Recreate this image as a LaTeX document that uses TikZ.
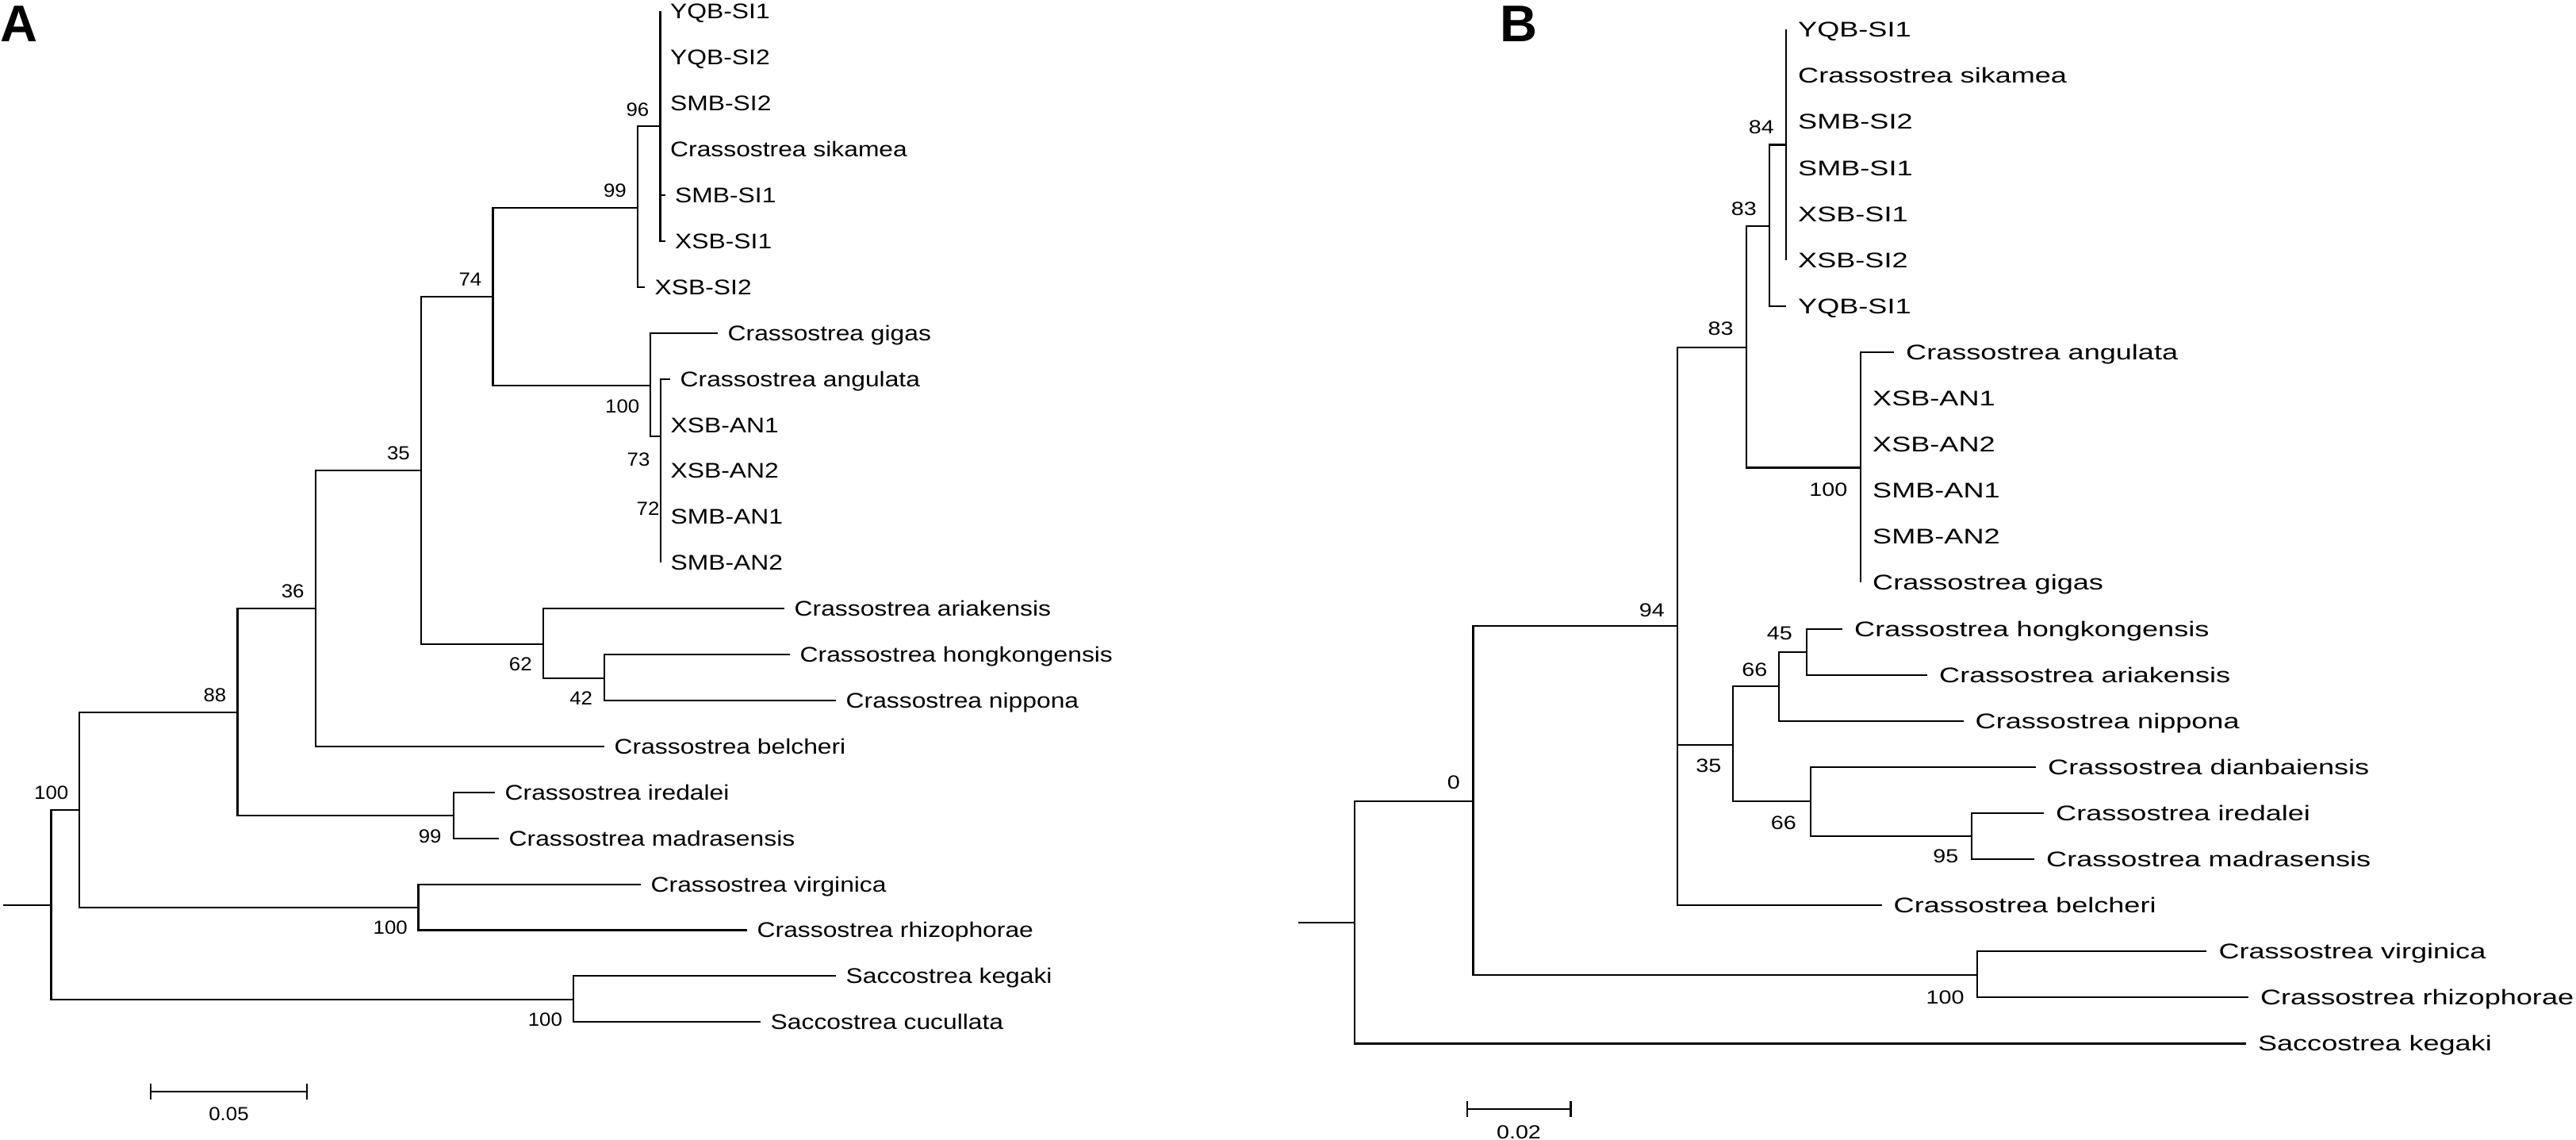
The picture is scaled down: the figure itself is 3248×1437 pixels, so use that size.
\documentclass[tikz,border=0pt]{standalone}
\usepackage{fontspec}
\setmainfont{Liberation Sans}
\newfontfamily\taxonfontA[FakeStretch=1.19]{Liberation Sans}
\newfontfamily\taxonfontB[FakeStretch=1.35]{Liberation Sans}
\newfontfamily\bootfontA[FakeStretch=1.08]{Liberation Sans}
\newfontfamily\bootfontB[FakeStretch=1.2]{Liberation Sans}
\usepackage{tikz}
\usetikzlibrary{positioning,arrows.meta}
\tikzstyle{leafA} = [anchor=west, inner xsep=1.2mm, inner ysep=0pt,
    text height=5.4pt, text depth=0pt, font=\taxonfontA\fontsize{7.6}{9}\selectfont]
\tikzstyle{leafB} = [leafA, inner xsep=1.45mm, font=\taxonfontB\fontsize{7.6}{9}\selectfont]
\tikzstyle{bootA} = [inner sep=0pt, text height=4.9pt, text depth=0pt,
    font=\bootfontA\fontsize{6.8}{8}\selectfont]
\tikzstyle{bootB} = [bootA, font=\bootfontB\fontsize{6.8}{8}\selectfont]
\tikzstyle{panel} = [anchor=base west, inner sep=0pt, font=\fontsize{18.5}{20}\selectfont\bfseries]
\tikzstyle{branch} = [draw, line width=0.6pt]
\tikzstyle{scalebar} = [draw, line width=0.6pt, {Bar[width=1.95mm]}-{Bar[width=1.95mm]}]

\begin{document}
\begin{tikzpicture}[x=0.01cm,y=-0.01cm]
    \useasboundingbox (0,0) rectangle (3248,1437);
    % Panel A: inner nodes
    \coordinate (stubA) at (3.5,1141);
    \coordinate (rA) at (64.5,1141);
    \coordinate (nA1) at (100,1021);
    \coordinate (nA2) at (299.5,898);
    \coordinate (nA3) at (397.8,767);
    \coordinate (nA4) at (531,593);
    \coordinate (nA5) at (621.5,374);
    \coordinate (nA6) at (804,262);
    \coordinate (nA7) at (832.5,159);
    \coordinate (nA8) at (820,486);
    \coordinate (nA9) at (833,550);
    \coordinate (nA10) at (833,637);
    \coordinate (nA11) at (833,680);
    \coordinate (nA12) at (685.4,812);
    \coordinate (nA13) at (761.8,855);
    \coordinate (nA14) at (571.7,1028);
    \coordinate (nA15) at (527.5,1144);
    \coordinate (nA16) at (722.6,1260);
    % Panel A: taxa
    \node[leafA] (ysi1A) at (832.5,14.5) {YQB-SI1};
    \node[leafA] (ysi2A) at (832.5,72.4) {YQB-SI2};
    \node[leafA] (ssi2A) at (832.5,130.3) {SMB-SI2};
    \node[leafA] (sikaA) at (832.5,188.2) {Crassostrea sikamea};
    \node[leafA] (ssi1A) at (838.5,246.1) {SMB-SI1};
    \node[leafA] (xsi1A) at (838.5,304.0) {XSB-SI1};
    \node[leafA] (xsi2A) at (813,361.9) {XSB-SI2};
    \node[leafA] (gigaA) at (905,419.8) {Crassostrea gigas};
    \node[leafA] (anguA) at (845,477.7) {Crassostrea angulata};
    \node[leafA] (xan1A) at (833,535.6) {XSB-AN1};
    \node[leafA] (xan2A) at (833,593.5) {XSB-AN2};
    \node[leafA] (san1A) at (833,651.4) {SMB-AN1};
    \node[leafA] (san2A) at (833,709.3) {SMB-AN2};
    \node[leafA] (ariaA) at (989,767.2) {Crassostrea ariakensis};
    \node[leafA] (hongA) at (996,825.1) {Crassostrea hongkongensis};
    \node[leafA] (nippA) at (1054,883.0) {Crassostrea nippona};
    \node[leafA] (belcA) at (762,940.9) {Crassostrea belcheri};
    \node[leafA] (iredA) at (624,998.8) {Crassostrea iredalei};
    \node[leafA] (madrA) at (629,1056.7) {Crassostrea madrasensis};
    \node[leafA] (virgA) at (808,1114.6) {Crassostrea virginica};
    \node[leafA] (rhizA) at (942,1172.5) {Crassostrea rhizophorae};
    \node[leafA] (kegaA) at (1054,1230.4) {Saccostrea kegaki};
    \node[leafA] (cucuA) at (959,1288.3) {Saccostrea cucullata};
    % Panel A: branches
    \path [branch] (stubA) -- (rA);
    \path [branch] (rA) |- (nA1);
    \path [branch] (rA) |- (nA16);
    \path [branch] (nA1) |- (nA2);
    \path [branch] (nA1) |- (nA15);
    \path [branch] (nA2) |- (nA3);
    \path [branch] (nA2) |- (nA14);
    \path [branch] (nA3) |- (nA4);
    \path [branch] (nA3) |- (belcA.west);
    \path [branch] (nA4) |- (nA5);
    \path [branch] (nA4) |- (nA12);
    \path [branch] (nA5) |- (nA6);
    \path [branch] (nA5) |- (nA8);
    \path [branch] (nA6) |- (nA7);
    \path [branch] (nA6) |- (xsi2A.west);
    \path [branch] (nA7) |- (ysi1A.west);
    \path [branch] (nA7) |- (ysi2A.west);
    \path [branch] (nA7) |- (ssi2A.west);
    \path [branch] (nA7) |- (sikaA.west);
    \path [branch] (nA7) |- (ssi1A.west);
    \path [branch] (nA7) |- (xsi1A.west);
    \path [branch] (nA8) |- (gigaA.west);
    \path [branch] (nA8) |- (nA9);
    \path [branch] (nA9) |- (anguA.west);
    \path [branch] (nA9) |- (xan1A.west);
    \path [branch] (nA9) |- (nA10);
    \path [branch] (nA10) |- (xan2A.west);
    \path [branch] (nA10) |- (nA11);
    \path [branch] (nA11) |- (san1A.west);
    \path [branch] (nA11) |- (san2A.west);
    \path [branch] (nA12) |- (ariaA.west);
    \path [branch] (nA12) |- (nA13);
    \path [branch] (nA13) |- (hongA.west);
    \path [branch] (nA13) |- (nippA.west);
    \path [branch] (nA14) |- (iredA.west);
    \path [branch] (nA14) |- (madrA.west);
    \path [branch] (nA15) |- (virgA.west);
    \path [branch] (nA15) |- (rhizA.west);
    \path [branch] (nA16) |- (kegaA.west);
    \path [branch] (nA16) |- (cucuA.west);
    % Panel A: bootstrap values
    \node[bootA, above left=1.3mm and 1.3mm of nA1] (bsA1) {100};
    \node[bootA, above left=1.3mm and 1.35mm of nA2] (bsA2) {88};
    \node[bootA, above left=1.3mm and 1.35mm of nA3] (bsA3) {36};
    \node[bootA, above left=1.3mm and 1.35mm of nA4] (bsA4) {35};
    \node[bootA, above left=1.3mm and 1.35mm of nA5] (bsA5) {74};
    \node[bootA, above left=1.3mm and 1.35mm of nA6] (bsA6) {99};
    \node[bootA, above left=1.2mm and 1.35mm of nA7] (bsA7) {96};
    \node[bootA, below left=1.65mm and 1.3mm of nA8] (bsA8) {100};
    \node[bootA] (bsA10) at (805,579) {73};
    \node[bootA] (bsA11) at (817,641) {72};
    \node[bootA, below left=1.6mm and 1.4mm of nA12] (bsA12) {62};
    \node[bootA, below left=1.6mm and 1.4mm of nA13] (bsA13) {42};
    \node[bootA, below left=1.65mm and 1.45mm of nA14] (bsA14) {99};
    \node[bootA, below left=1.6mm and 1.3mm of nA15] (bsA15) {100};
    \node[bootA, below left=1.6mm and 1.3mm of nA16] (bsA16) {100};
    % Panel A: scale
    \coordinate (sbA1) at (189,1376);
    \coordinate (sbA2) at (388,1376);
    \path [scalebar] (sbA1) -- (sbA2);
    \node[bootA] (sbA) at (288.5,1404) {0.05};
    \node[panel] (labA) at (0,52.7) {A};

    % Panel B: inner nodes
    \coordinate (stubB) at (1636.8,1163);
    \coordinate (rB) at (1708.2,1163);
    \coordinate (nB0) at (1857.5,1010);
    \coordinate (nB94) at (2115,789.3);
    \coordinate (nB83o) at (2202.3,437.7);
    \coordinate (nB83i) at (2231.4,285);
    \coordinate (nB84) at (2252,182.5);
    \coordinate (nBan) at (2346,589.5);
    \coordinate (nB35) at (2185.4,938.8);
    \coordinate (nB66a) at (2243,865.4);
    \coordinate (nB45) at (2277.9,821.6);
    \coordinate (nB66b) at (2283,1010);
    \coordinate (nB95) at (2486,1054);
    \coordinate (nBv) at (2493.3,1228.8);
    % Panel B: taxa
    \node[leafB] (ysi1B) at (2252,37.3) {YQB-SI1};
    \node[leafB] (sikaB) at (2252,95.4) {Crassostrea sikamea};
    \node[leafB] (ssi2B) at (2252,153.5) {SMB-SI2};
    \node[leafB] (ssi1B) at (2252,211.6) {SMB-SI1};
    \node[leafB] (xsi1B) at (2252,269.7) {XSB-SI1};
    \node[leafB] (xsi2B) at (2252,327.8) {XSB-SI2};
    \node[leafB] (ysi1Bb) at (2252,385.9) {YQB-SI1};
    \node[leafB] (anguB) at (2388,444.0) {Crassostrea angulata};
    \node[leafB] (xan1B) at (2346,502.1) {XSB-AN1};
    \node[leafB] (xan2B) at (2346,560.2) {XSB-AN2};
    \node[leafB] (san1B) at (2346,618.3) {SMB-AN1};
    \node[leafB] (san2B) at (2346,676.4) {SMB-AN2};
    \node[leafB] (gigaB) at (2346,734.5) {Crassostrea gigas};
    \node[leafB] (hongB) at (2323,792.6) {Crassostrea hongkongensis};
    \node[leafB] (ariaB) at (2430,850.7) {Crassostrea ariakensis};
    \node[leafB] (nippB) at (2475.5,908.8) {Crassostrea nippona};
    \node[leafB] (dianB) at (2567,966.9) {Crassostrea dianbaiensis};
    \node[leafB] (iredB) at (2577,1025.0) {Crassostrea iredalei};
    \node[leafB] (madrB) at (2565,1083.1) {Crassostrea madrasensis};
    \node[leafB] (belcB) at (2372.5,1141.2) {Crassostrea belcheri};
    \node[leafB] (virgB) at (2782.3,1199.3) {Crassostrea virginica};
    \node[leafB] (rhizB) at (2834.9,1257.4) {Crassostrea rhizophorae};
    \node[leafB] (kegaB) at (2831.8,1315.5) {Saccostrea kegaki};
    % Panel B: branches
    \path [branch] (stubB) -- (rB);
    \path [branch] (rB) |- (nB0);
    \path [branch] (rB) |- (kegaB.west);
    \path [branch] (nB0) |- (nB94);
    \path [branch] (nB0) |- (nBv);
    \path [branch] (nB94) |- (nB83o);
    \path [branch] (nB94) |- (nB35);
    \path [branch] (nB94) |- (belcB.west);
    \path [branch] (nB83o) |- (nB83i);
    \path [branch] (nB83o) |- (nBan);
    \path [branch] (nB83i) |- (nB84);
    \path [branch] (nB83i) |- (ysi1Bb.west);
    \path [branch] (nB84) |- (ysi1B.west);
    \path [branch] (nB84) |- (sikaB.west);
    \path [branch] (nB84) |- (ssi2B.west);
    \path [branch] (nB84) |- (ssi1B.west);
    \path [branch] (nB84) |- (xsi1B.west);
    \path [branch] (nB84) |- (xsi2B.west);
    \path [branch] (nBan) |- (anguB.west);
    \path [branch] (nBan) |- (xan1B.west);
    \path [branch] (nBan) |- (xan2B.west);
    \path [branch] (nBan) |- (san1B.west);
    \path [branch] (nBan) |- (san2B.west);
    \path [branch] (nBan) |- (gigaB.west);
    \path [branch] (nB35) |- (nB66a);
    \path [branch] (nB35) |- (nB66b);
    \path [branch] (nB66a) |- (nB45);
    \path [branch] (nB66a) |- (nippB.west);
    \path [branch] (nB45) |- (hongB.west);
    \path [branch] (nB45) |- (ariaB.west);
    \path [branch] (nB66b) |- (dianB.west);
    \path [branch] (nB66b) |- (nB95);
    \path [branch] (nB95) |- (iredB.west);
    \path [branch] (nB95) |- (madrB.west);
    \path [branch] (nBv) |- (virgB.west);
    \path [branch] (nBv) |- (rhizB.west);
    % Panel B: bootstrap values
    \node[bootB, above left=1.5mm and 1.6mm of nB0] (bsB0) {0};
    \node[bootB, above left=1.1mm and 1.55mm of nB94] (bsB94) {94};
    \node[bootB, above left=1.45mm and 1.6mm of nB83o] (bsB83o) {83};
    \node[bootB, above left=1.3mm and 1.6mm of nB83i] (bsB83i) {83};
    \node[bootB, above left=1.3mm and 1.45mm of nB84] (bsB84) {84};
    \node[bootB, above left=1.2mm and 1.4mm of nB66a] (bsB66a) {66};
    \node[bootB, above left=1.4mm and 1.75mm of nB45] (bsB45) {45};
    \node[bootB, below left=1.85mm and 1.6mm of nBan] (bsBan) {100};
    \node[bootB, below left=1.7mm and 1.45mm of nB35] (bsB35) {35};
    \node[bootB, below left=1.75mm and 1.75mm of nB66b] (bsB66b) {66};
    \node[bootB, below left=1.6mm and 1.6mm of nB95] (bsB95) {95};
    \node[bootB, below left=1.85mm and 1.6mm of nBv] (bsBv) {100};
    % Panel B: scale
    \coordinate (sbB1) at (1849,1398);
    \coordinate (sbB2) at (1981.5,1398);
    \path [scalebar] (sbB1) -- (sbB2);
    \node[bootB] (sbB) at (1915,1427) {0.02};
    \node[panel] (labB) at (1891,52.7) {B};
\end{tikzpicture}
\end{document}
